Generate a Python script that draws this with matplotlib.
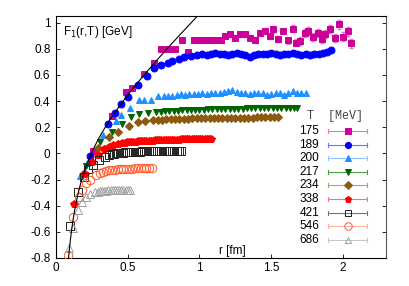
import numpy as np
import matplotlib
matplotlib.use("Agg")
import matplotlib.pyplot as plt

plt.rcParams['font.family'] = ['Liberation Sans', 'DejaVu Sans']

temps = ["175", "189", "200", "217", "234", "338", "421", "546", "686"]

r175 = [0.26, 0.39, 0.49, 0.53, 0.615, 0.68, 0.735, 0.78, 0.83, 0.875, 0.92, 0.965, 1.0, 1.035, 1.07,
        1.105, 1.15, 1.175, 1.21, 1.245, 1.28, 1.315, 1.35, 1.385, 1.42, 1.455, 1.49, 1.513, 1.548, 1.583,
        1.618, 1.653, 1.676, 1.70, 1.734, 1.757, 1.793, 1.828, 1.851, 1.874, 1.909, 1.944, 1.974, 2.002,
        2.037, 2.053]
F175 = [0.015, 0.285, 0.47, 0.50, 0.61, 0.69, 0.80, 0.80, 0.80, 0.865, 0.775, 0.87, 0.865, 0.865, 0.865,
        0.865, 0.865, 0.895, 0.91, 0.883, 0.91, 0.91, 0.883, 0.87, 0.92, 0.935, 0.895, 0.947, 0.876, 0.934,
        0.865, 0.953, 0.846, 0.858, 0.92, 0.934, 0.89, 0.92, 0.876, 0.91, 0.953, 0.883, 0.986, 0.89,
        0.934, 0.84]
E175 = [0.004, 0.005, 0.006, 0.006, 0.007, 0.008, 0.01, 0.01, 0.01, 0.012, 0.012, 0.014, 0.015, 0.015, 0.015,
        0.016, 0.016, 0.017, 0.018, 0.018, 0.019, 0.02, 0.02, 0.021, 0.022, 0.022, 0.023, 0.024, 0.024, 0.025,
        0.026, 0.026, 0.027, 0.028, 0.028, 0.029, 0.03, 0.03, 0.031, 0.032, 0.032, 0.033, 0.034, 0.034,
        0.035, 0.036]

r189 = [0.238, 0.36, 0.41, 0.455, 0.50, 0.57, 0.635, 0.685, 0.73, 0.78, 0.81, 0.855, 0.895, 0.94, 0.985,
        1.02, 1.05, 1.08, 1.11, 1.14, 1.17, 1.20, 1.23, 1.26, 1.29, 1.32, 1.35, 1.38, 1.41, 1.44, 1.47,
        1.50, 1.53, 1.56, 1.59, 1.62, 1.65, 1.68, 1.71, 1.74, 1.77, 1.80, 1.83, 1.86, 1.89, 1.92]
F189 = [-0.018, 0.228, 0.31, 0.375, 0.43, 0.52, 0.59, 0.655, 0.675, 0.69, 0.705, 0.72, 0.735, 0.745, 0.755,
        0.76, 0.755, 0.76, 0.765, 0.758, 0.762, 0.755, 0.76, 0.768, 0.762, 0.755, 0.738, 0.752, 0.758, 0.762,
        0.758, 0.765, 0.76, 0.755, 0.762, 0.758, 0.765, 0.758, 0.755, 0.76, 0.752, 0.756, 0.76, 0.765, 0.772, 0.79]

r200 = [0.17, 0.215, 0.33, 0.415, 0.45, 0.515, 0.58, 0.615, 0.66, 0.71, 0.75, 0.78, 0.81, 0.84, 0.87, 0.90,
        0.93, 0.96, 0.99, 1.02, 1.05, 1.08, 1.11, 1.14, 1.17, 1.20, 1.23, 1.26, 1.29, 1.32, 1.35, 1.38,
        1.41, 1.44, 1.47, 1.50, 1.53, 1.56, 1.59, 1.62, 1.65, 1.68, 1.71, 1.74]
F200 = [-0.17, -0.07, 0.14, 0.245, 0.29, 0.345, 0.405, 0.405, 0.41, 0.44, 0.436, 0.44, 0.436, 0.445, 0.45,
        0.448, 0.452, 0.455, 0.455, 0.458, 0.455, 0.46, 0.462, 0.458, 0.468, 0.475, 0.485, 0.468, 0.462,
        0.458, 0.455, 0.46, 0.462, 0.458, 0.445, 0.455, 0.46, 0.462, 0.448, 0.458, 0.475, 0.462, 0.458, 0.462]

r217 = [0.207, 0.31, 0.39, 0.46, 0.52, 0.58, 0.64, 0.70, 0.73, 0.76, 0.79, 0.82, 0.85, 0.88, 0.91, 0.94,
        0.97, 1.00, 1.03, 1.06, 1.09, 1.12, 1.15, 1.18, 1.21, 1.24, 1.27, 1.30, 1.33, 1.36, 1.39, 1.42,
        1.45, 1.48, 1.51, 1.54, 1.57, 1.60, 1.63, 1.66, 1.68]
F217 = [-0.10, 0.087, 0.165, 0.228, 0.275, 0.30, 0.31, 0.316, 0.318, 0.32, 0.322, 0.324, 0.326, 0.328, 0.33,
        0.332, 0.333, 0.334, 0.335, 0.336, 0.337, 0.338, 0.339, 0.34, 0.341, 0.341, 0.342, 0.342, 0.343,
        0.343, 0.344, 0.344, 0.344, 0.345, 0.345, 0.345, 0.345, 0.346, 0.346, 0.346, 0.346]

r234 = [0.19, 0.29, 0.37, 0.43, 0.51, 0.57, 0.62, 0.675, 0.71, 0.74, 0.77, 0.80, 0.83, 0.86, 0.89, 0.92,
        0.95, 0.98, 1.01, 1.04, 1.07, 1.10, 1.13, 1.16, 1.19, 1.22, 1.25, 1.28, 1.31, 1.34, 1.37, 1.40,
        1.43, 1.46, 1.49, 1.52, 1.55]
F234 = [-0.155, 0.04, 0.125, 0.163, 0.21, 0.238, 0.245, 0.253, 0.256, 0.258, 0.26, 0.262, 0.263, 0.264,
        0.265, 0.266, 0.267, 0.268, 0.269, 0.27, 0.27, 0.271, 0.271, 0.272, 0.272, 0.273, 0.273, 0.273,
        0.274, 0.274, 0.274, 0.275, 0.275, 0.275, 0.275, 0.276, 0.276]

r338 = [0.126, 0.203, 0.254, 0.29, 0.335, 0.37, 0.40, 0.43, 0.46, 0.48, 0.495, 0.51, 0.525, 0.54, 0.555,
        0.57, 0.585, 0.60, 0.615, 0.63, 0.645, 0.66, 0.675, 0.69, 0.705, 0.72, 0.735, 0.75, 0.765, 0.78,
        0.795, 0.81, 0.825, 0.84, 0.855, 0.87, 0.885, 0.90, 0.915, 0.93, 0.945, 0.96, 0.975, 0.99, 1.005,
        1.02, 1.035, 1.05, 1.065, 1.08]
F338 = [-0.385, -0.16, -0.067, -0.012, 0.035, 0.05, 0.062, 0.07, 0.077, 0.08, 0.083, 0.085, 0.087, 0.088,
        0.09, 0.091, 0.092, 0.093, 0.094, 0.095, 0.096, 0.097, 0.098, 0.099, 0.1, 0.1, 0.101, 0.102, 0.102,
        0.103, 0.103, 0.104, 0.104, 0.105, 0.105, 0.106, 0.106, 0.107, 0.107, 0.107, 0.108, 0.108, 0.108,
        0.109, 0.109, 0.109, 0.11, 0.11, 0.11, 0.11]

r421 = [0.098, 0.156, 0.198, 0.226, 0.26, 0.30, 0.34, 0.37, 0.39, 0.405, 0.42, 0.435, 0.45, 0.465, 0.48,
        0.495, 0.51, 0.525, 0.54, 0.555, 0.57, 0.585, 0.60, 0.615, 0.63, 0.645, 0.66, 0.675, 0.69, 0.705,
        0.72, 0.735, 0.75, 0.765, 0.78, 0.795, 0.81, 0.825, 0.84, 0.855, 0.87]
F421 = [-0.555, -0.298, -0.18, -0.12, -0.092, -0.05, -0.028, -0.015, -0.008, -0.004, -0.001, 0.002, 0.004,
        0.006, 0.008, 0.009, 0.01, 0.011, 0.012, 0.013, 0.014, 0.014, 0.015, 0.015, 0.016, 0.016, 0.017,
        0.017, 0.018, 0.018, 0.018, 0.019, 0.019, 0.019, 0.02, 0.02, 0.02, 0.02, 0.021, 0.021, 0.021]

r546 = [0.084, 0.12, 0.16, 0.18, 0.21, 0.24, 0.28, 0.31, 0.33, 0.35, 0.37, 0.39, 0.41, 0.43, 0.45, 0.47,
        0.49, 0.51, 0.53, 0.55, 0.57, 0.59, 0.61, 0.63, 0.65, 0.67]
F546 = [-0.78, -0.49, -0.335, -0.28, -0.23, -0.207, -0.168, -0.15, -0.142, -0.136, -0.131, -0.127, -0.124,
        -0.122, -0.12, -0.119, -0.118, -0.117, -0.116, -0.115, -0.115, -0.114, -0.114, -0.113, -0.113, -0.113]

r686 = [0.088, 0.12, 0.154, 0.18, 0.21, 0.24, 0.27, 0.29, 0.305, 0.32, 0.335, 0.35, 0.365, 0.38, 0.395,
        0.41, 0.425, 0.44, 0.455, 0.47, 0.485, 0.50, 0.515]
F686 = [-0.72, -0.57, -0.436, -0.37, -0.335, -0.31, -0.298, -0.292, -0.289, -0.287, -0.285, -0.284, -0.283,
        -0.282, -0.281, -0.28, -0.28, -0.279, -0.279, -0.278, -0.278, -0.278, -0.277]

# T=0 reference potential  V(r) = -A/r + sigma*r + C
pot_A, pot_sigma, pot_C = 0.0852, 1.07, 0.081
r_line = np.linspace(0.06, 1.05, 300)

series = [
    (r175, F175, E175, 's', '#CC0099', '#E07AC8', True, 5.0),
    (r189, F189, None, 'o', '#0000FF', '#6E6EFF', True, 5.0),
    (r200, F200, None, '^', '#1E90FF', '#8CC4FF', True, 5.0),
    (r217, F217, None, 'v', '#006400', '#4C9A4C', True, 5.0),
    (r234, F234, None, 'D', '#8B5A10', '#C09A6A', True, 4.0),
    (r338, F338, None, 'p', '#FF0000', '#FF7070', True, 5.5),
    (r421, F421, None, 's', '#222222', '#777777', False, 5.5),
    (r546, F546, None, 'o', '#FF5A2A', '#FFB39A', False, 6.0),
    (r686, F686, None, '^', '#A0A0A0', '#C8C8C8', False, 5.5),
]

fig = plt.figure(figsize=(4.09, 2.86), dpi=100)
ax = fig.add_axes([56/409, 28/286, 330/409, 242/286])

ax.plot(r_line, -pot_A/r_line + pot_sigma*r_line + pot_C, color='black', lw=0.8, zorder=5)

for (r, F, E, m, c, lc, filled, ms) in series:
    fc = c if filled else 'none'
    if E is not None:
        ax.errorbar(r, F, yerr=E, fmt='none', ecolor=lc, elinewidth=0.8, capsize=1.5, zorder=2)
    ax.plot(r, F, linestyle='none', marker=m, markersize=ms, markerfacecolor=fc,
            markeredgecolor=c, markeredgewidth=0.7, zorder=3)

ax.set_xlim(0, 2.3)
ax.set_ylim(-0.8, 1.05)
ax.set_xticks([0, 0.5, 1, 1.5, 2])
ax.set_xticklabels(['0', '0.5', '1', '1.5', '2'])
ax.set_yticks([-0.8, -0.6, -0.4, -0.2, 0, 0.2, 0.4, 0.6, 0.8, 1])
ax.set_yticklabels(['-0.8', '-0.6', '-0.4', '-0.2', '0', '0.2', '0.4', '0.6', '0.8', '1'])
ax.tick_params(direction='in', length=3, width=0.6, labelsize=8.5, right=True, top=False, pad=3)
ax.tick_params(axis='y', pad=4)
for s in ax.spines.values():
    s.set_linewidth(0.8)
ax.spines['right'].set_color('#555555')

ax.text(0.02, 0.965, r'F$_1$(r,T) [GeV]', transform=ax.transAxes, ha='left', va='top', fontsize=8.5)
ax.text(1.23, -0.79, 'r [fm]', ha='center', va='bottom', fontsize=8.5)

# legend (gnuplot style)
def ax_x(px):
    return (px - 56) / 330
def ax_y(py):
    return (258 - py) / 242

ax.text(ax_x(307), ax_y(116), 'T  [MeV]', transform=ax.transAxes, ha='left', va='center',
        fontsize=8.5, family=['Liberation Mono', 'DejaVu Sans Mono'], color='#444444')
for i, (lab, (r, F, E, m, c, lc, filled, ms)) in enumerate(zip(temps, series)):
    py = 131 + i * 13.6
    yy = ax_y(py)
    ax.text(ax_x(319), yy, lab, transform=ax.transAxes, ha='right', va='center', fontsize=8.5)
    x0, x1 = ax_x(328), ax_x(367)
    ax.plot([x0, x1], [yy, yy], color=lc, lw=0.8, transform=ax.transAxes, clip_on=False)
    h = 2.0 / 242
    for xx in (x0, x1):
        ax.plot([xx, xx], [yy - h, yy + h], color=lc, lw=0.8, transform=ax.transAxes, clip_on=False)
    ax.plot([ax_x(348)], [yy], marker=m, markersize=ms * 0.9, markerfacecolor=(c if filled else 'none'),
            markeredgecolor=c, markeredgewidth=0.7, transform=ax.transAxes, clip_on=False, linestyle='none')

fig.savefig('out.png', dpi=100)
